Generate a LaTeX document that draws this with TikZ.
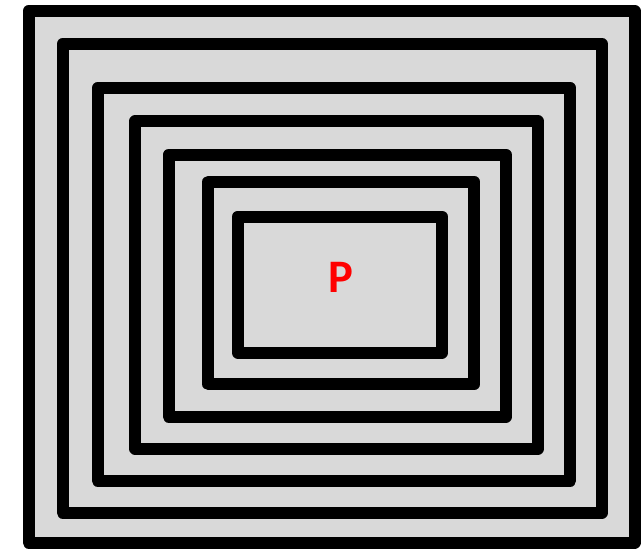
\documentclass[tikz,border=0pt]{standalone}
\usepackage{fontspec}
\setmainfont{Carlito}
\definecolor{boxgray}{HTML}{D9D9D9}
\definecolor{pred}{HTML}{FF0000}
\tikzset{
  ring/.style={draw=black, fill=boxgray, line width=12pt, line join=round},
  label/.style={text=pred, font=\fontsize{46.6}{50}\selectfont\bfseries, inner sep=0pt}
}
\begin{document}
\begin{tikzpicture}[x=1pt,y=-1pt]
\useasboundingbox (0,0) rectangle (644,548);
\draw[ring] (28.5,11) rectangle (634.5,542.5);
\draw[ring] (62.5,44) rectangle (602,512.5);
\draw[ring] (97.7,88) rectangle (570.3,480.7);
\draw[ring] (135.3,121.3) rectangle (538,448.7);
\draw[ring] (168.5,154.8) rectangle (506,416.5);
\draw[ring] (208.3,181.7) rectangle (474.2,384.3);
\draw[ring] (237.7,216.5) rectangle (442,352.5);
\node[label, anchor=base] (p) at (341.3,292.7) {P};
\end{tikzpicture}
\end{document}
